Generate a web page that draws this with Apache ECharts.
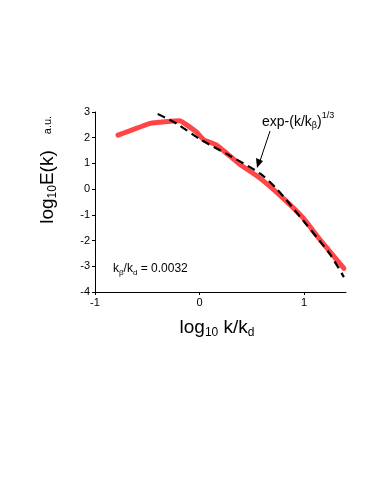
<!DOCTYPE html>
<html>
<head>
<meta charset="utf-8">
<script src="https://cdn.jsdelivr.net/npm/echarts@6/dist/echarts.min.js"></script>
<style>
  html, body { margin: 0; padding: 0; background: #fff; }
  #chart { width: 374px; height: 488px; }
</style>
</head>
<body>
<div id="chart"></div>
<script>
// measured spectrum (red) and stretched-exponential fit (dashed)
const specX = [-0.78, -0.47, -0.19, -0.03, 0.04, 0.16, 0.38, 0.58, 0.80, 0.99, 1.15, 1.38]
const specY = [2.10, 2.56, 2.66, 2.22, 1.92, 1.72, 0.98, 0.42, -0.36, -1.12, -1.96, -3.08]
const fitX = [-0.40, -0.22, 0, 0.29, 0.58, 0.74, 0.99, 1.15, 1.25, 1.38]
const fitY = [2.92, 2.55, 1.95, 1.30, 0.60, 0.00, -1.22, -2.02, -2.55, -3.42]
const xTicks = [-1, 0, 1]
const yTicks = [-4, -3, -2, -1, 0, 1, 2, 3]

const FONT = '"Liberation Sans", Arial, sans-serif'
const ctx = document.createElement('canvas').getContext('2d')
function textW(t, size) {
  ctx.font = size + 'px ' + FONT
  return ctx.measureText(t).width
}
// lay out text pieces with sub/superscripts as one group
function richLabel(parts, x, y, opt) {
  opt = opt || {}
  let total = 0
  parts.forEach(p => { total += textW(p.t, p.s) })
  let cx = opt.left ? 0 : -total / 2
  const children = parts.map(p => {
    const el = {
      type: 'text',
      x: cx,
      y: p.dy || 0,
      style: { text: p.t, font: p.s + 'px ' + FONT, fill: '#000', textAlign: 'left', textVerticalAlign: 'middle' }
    }
    cx += textW(p.t, p.s)
    return el
  })
  return { type: 'group', x: x, y: y, rotation: opt.rot || 0, children: children }
}

const toPairs = (xs, ys) => xs.map((v, i) => [v, ys[i]])

const chart = echarts.init(document.getElementById('chart'))
chart.setOption({
  animation: false,
  grid: { left: 95, top: 112, right: 28, bottom: 196 },
  xAxis: {
    type: 'value', min: -1, max: 1.4, interval: 1,
    splitLine: { show: false },
    axisLine: { onZero: false, lineStyle: { color: '#000', width: 1 } },
    axisTick: { length: 3, lineStyle: { color: '#000' }, customValues: xTicks },
    axisLabel: { color: '#000', fontSize: 11, fontFamily: FONT, margin: 5, customValues: xTicks }
  },
  yAxis: {
    type: 'value', min: -4, max: 3, interval: 1,
    splitLine: { show: false },
    axisLine: { show: true, onZero: false, lineStyle: { color: '#000', width: 1 } },
    axisTick: { show: true, length: 3, lineStyle: { color: '#000' }, customValues: yTicks },
    axisLabel: { color: '#000', fontSize: 11, fontFamily: FONT, margin: 5, customValues: yTicks }
  },
  series: [
    {
      type: 'line', data: toPairs(specX, specY), symbol: 'none', smooth: 0.1,
      lineStyle: { color: '#ff4545', width: 5, cap: 'round', join: 'round' }, z: 2
    },
    {
      type: 'line', data: toPairs(fitX, fitY), symbol: 'none', smooth: 0.3,
      lineStyle: { color: '#000', width: 2.2, type: [8, 5] }, z: 3
    }
  ],
  graphic: [
    richLabel([{ t: 'log', s: 19 }, { t: '10', s: 12, dy: 5 }, { t: ' k/k', s: 19 }, { t: 'd', s: 12, dy: 5 }], 217, 328),
    richLabel([{ t: 'log', s: 19 }, { t: '10', s: 12, dy: 5 }, { t: 'E(k)', s: 19 }], 48, 187, { rot: Math.PI / 2 }),
    richLabel([{ t: 'a.u.', s: 11 }], 48, 125, { rot: Math.PI / 2 }),
    richLabel([{ t: 'k', s: 12 }, { t: 'β', s: 8, dy: 4 }, { t: '/k', s: 12 }, { t: 'd', s: 8, dy: 4 }, { t: ' = 0.0032', s: 12 }], 113, 269, { left: true }),
    richLabel([{ t: 'exp-(k/k', s: 14 }, { t: 'β', s: 9, dy: 4 }, { t: ')', s: 14 }, { t: '1/3', s: 9, dy: -6 }], 262, 122, { left: true }),
    {
      type: 'line', shape: { x1: 270, y1: 131, x2: 259, y2: 164 },
      style: { stroke: '#000', lineWidth: 1 }
    },
    {
      type: 'polygon', shape: { points: [[257, 168], [256, 158], [263, 161]] },
      style: { fill: '#000' }
    }
  ]
})
</script>
</body>
</html>
